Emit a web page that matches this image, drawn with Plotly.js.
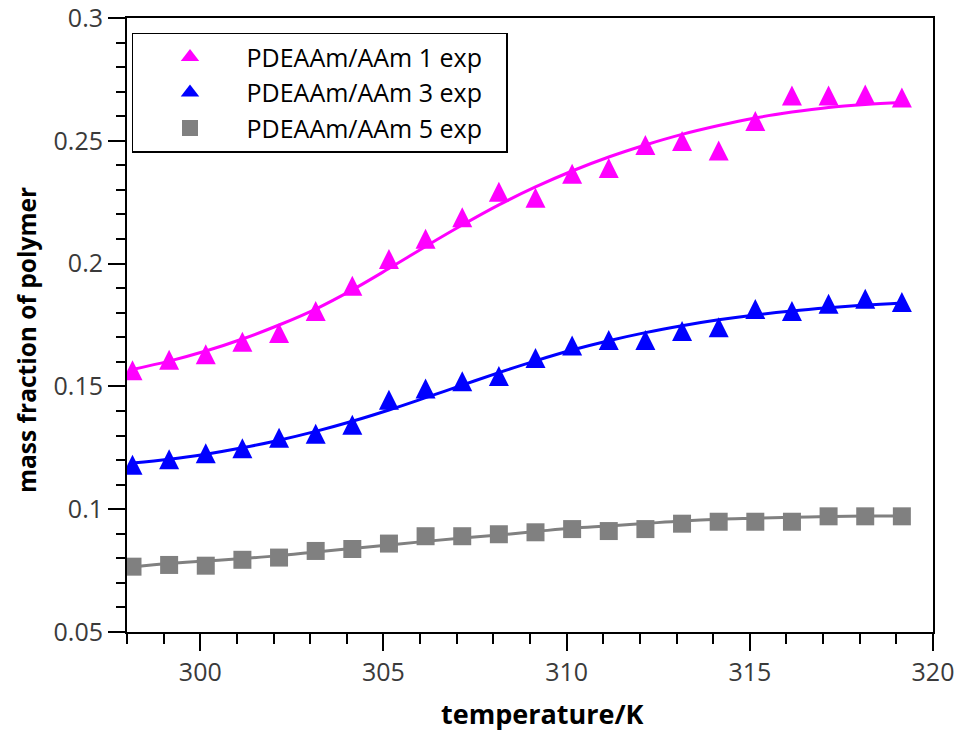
<!DOCTYPE html>
<html>
<head>
<meta charset="utf-8">
<script src="https://cdn.plot.ly/plotly-3.0.1.min.js"></script>
<style>html,body{margin:0;padding:0;background:#fff;}#chart{width:967px;height:734px;}</style>
</head>
<body>
<div id="chart"></div>
<script>
// Temperatures (K)
const temperature = [298.15, 299.15, 300.15, 301.15, 302.15, 303.15, 304.15, 305.15, 306.15, 307.15, 308.15,
                     309.15, 310.15, 311.15, 312.15, 313.15, 314.15, 315.15, 316.15, 317.15, 318.15, 319.15];

// Experimental mass fractions
const exp1 = [0.1566, 0.1609, 0.1631, 0.1682, 0.1717, 0.1807, 0.1910, 0.2019, 0.2101, 0.2189, 0.2293,
              0.2268, 0.2366, 0.2389, 0.2483, 0.2499, 0.2461, 0.2581, 0.2684, 0.2684, 0.2689, 0.2676];
const exp3 = [0.1181, 0.1203, 0.1228, 0.1248, 0.1291, 0.1307, 0.1344, 0.1446, 0.1491, 0.1521, 0.1542,
              0.1616, 0.1667, 0.1689, 0.1689, 0.1726, 0.1741, 0.1815, 0.1807, 0.1837, 0.1857, 0.1844];
const exp5 = [0.0766, 0.0773, 0.0770, 0.0794, 0.0803, 0.0830, 0.0838, 0.0860, 0.0890, 0.0890, 0.0898,
              0.0906, 0.0919, 0.0911, 0.0919, 0.0941, 0.0949, 0.0949, 0.0949, 0.0971, 0.0971, 0.0971];

// Fitted curves (at the same temperatures)
const fit1 = [0.1569, 0.1603, 0.1644, 0.1693, 0.1750, 0.1815, 0.1893, 0.1980, 0.2070, 0.2157, 0.2239,
              0.2312, 0.2377, 0.2434, 0.2483, 0.2526, 0.2562, 0.2593, 0.2617, 0.2636, 0.2648, 0.2656];
const fit3 = [0.1188, 0.1203, 0.1224, 0.1250, 0.1281, 0.1317, 0.1358, 0.1404, 0.1454, 0.1505, 0.1556,
              0.1604, 0.1648, 0.1686, 0.1719, 0.1747, 0.1771, 0.1791, 0.1807, 0.1820, 0.1831, 0.1840];
const fit5 = [0.0765, 0.0779, 0.0789, 0.0799, 0.0811, 0.0826, 0.0840, 0.0854, 0.0869, 0.0883, 0.0895,
              0.0909, 0.0923, 0.0932, 0.0942, 0.0952, 0.0959, 0.0963, 0.0967, 0.0970, 0.0972, 0.0972];

const seriesNames = ['PDEAAm/AAm 1 exp', 'PDEAAm/AAm 3 exp', 'PDEAAm/AAm 5 exp'];
const colors = ['#ff00ff', '#0000ff', '#808080'];

// Axis ticks
const xTickVals = [300, 305, 310, 315, 320];
const yTickVals = [0.05, 0.1, 0.15, 0.2, 0.25, 0.3];
const yTickText = ['0.05', '0.1', '0.15', '0.2', '0.25', '0.3'];

const FONT = 'Open Sans, Noto Sans, DejaVu Sans, sans-serif';
const PAD = '\u00a0\u00a0\u00a0';

function fitTrace(y, c, w) {
  return {x: temperature, y: y, mode: 'lines', type: 'scatter', showlegend: false,
          line: {color: c, width: w, shape: 'spline', smoothing: 1}, hoverinfo: 'skip'};
}
// Plot markers: tall triangle (arrow shape centred on point)
function triTrace(y, c) {
  return {x: temperature, y: y, mode: 'markers', type: 'scatter', showlegend: false,
          marker: {symbol: 'arrow-down', angle: 180, standoff: 10, size: 20, color: c, line: {width: 0}}};
}
// Legend-only entries
function legendTrace(name, c, sym) {
  return {x: [null], y: [null], mode: 'markers', type: 'scatter', name: name + PAD,
          marker: {symbol: sym, size: 20, color: c, line: {width: 0}}};
}

const data = [
  fitTrace(fit1, colors[0], 3),
  fitTrace(fit3, colors[1], 3),
  fitTrace(fit5, colors[2], 3),
  triTrace(exp1, colors[0]),
  triTrace(exp3, colors[1]),
  {x: temperature, y: exp5, mode: 'markers', type: 'scatter', showlegend: false,
   marker: {symbol: 'square', size: 18, color: colors[2], line: {width: 0}}},
  legendTrace(seriesNames[0], colors[0], 'triangle-up'),
  legendTrace(seriesNames[1], colors[1], 'triangle-up'),
  legendTrace(seriesNames[2], colors[2], 'square')
];

const axisCommon = {
  showline: true, linecolor: '#000', linewidth: 2, mirror: true,
  ticks: 'outside', ticklen: 17, tickwidth: 2, tickcolor: '#000',
  showgrid: false, zeroline: false, ticklabeloverflow: 'allow',
  tickfont: {family: FONT, size: 25, color: '#3a3a3a'}
};

const layout = {
  width: 967, height: 734,
  margin: {l: 127, r: 34, t: 18, b: 102},
  paper_bgcolor: '#fff', plot_bgcolor: '#fff',
  xaxis: Object.assign({}, axisCommon, {
    range: [298, 320], tickmode: 'array', tickvals: xTickVals,
    minor: {dtick: 1, tick0: 298, ticks: 'outside', ticklen: 10, tickwidth: 2, tickcolor: '#000', showgrid: false}
  }),
  yaxis: Object.assign({}, axisCommon, {
    range: [0.05, 0.3], tickmode: 'array', tickvals: yTickVals, ticktext: yTickText,
    minor: {dtick: 0.01, tick0: 0.05, ticks: 'outside', ticklen: 9, tickwidth: 2, tickcolor: '#000', showgrid: false}
  }),
  legend: {
    x: 0.0062, y: 0.976, xanchor: 'left', yanchor: 'top',
    bgcolor: '#fff', bordercolor: '#000', borderwidth: 1.5,
    font: {family: FONT, size: 25, color: '#000'},
    itemwidth: 103
  },
  annotations: [
    {text: '<b>temperature/K</b>', xref: 'paper', yref: 'paper', x: 0.516, y: -0.133,
     xanchor: 'center', yanchor: 'middle', showarrow: false,
     font: {family: FONT, size: 27, color: '#000'}},
    {text: '<b>mass fraction of polymer</b>', xref: 'paper', yref: 'paper', x: -0.124, y: 0.4756,
     xanchor: 'center', yanchor: 'middle', showarrow: false, textangle: -90,
     font: {family: FONT, size: 24.5, color: '#000'}}
  ],
  showlegend: true
};

Plotly.newPlot('chart', data, layout, {displayModeBar: false, staticPlot: true});
</script>
</body>
</html>
